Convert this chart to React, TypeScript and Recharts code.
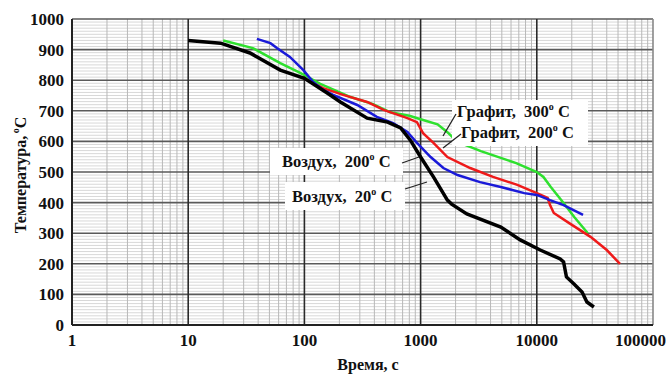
import React from 'react';
import { LineChart, Line, XAxis, YAxis, ReferenceLine } from 'recharts';

// Кривые охлаждения: время, с -> температура, °C
const air20 = [
  { t: 10, T: 930 }, { t: 19, T: 921 }, { t: 34, T: 889 }, { t: 62, T: 833 },
  { t: 100, T: 806 }, { t: 157, T: 758 }, { t: 204, T: 729 }, { t: 347, T: 676 },
  { t: 520, T: 663 }, { t: 673, T: 644 }, { t: 816, T: 604 }, { t: 1000, T: 549 },
  { t: 1290, T: 484 }, { t: 1700, T: 408 }, { t: 1850, T: 395 }, { t: 2500, T: 363 },
  { t: 4900, T: 320 }, { t: 7200, T: 278 }, { t: 10700, T: 245 }, { t: 15900, T: 216 },
  { t: 17000, T: 206 }, { t: 18000, T: 157 }, { t: 20900, T: 134 }, { t: 24500, T: 108 },
  { t: 27000, T: 75 }, { t: 31000, T: 59 },
];

const air200 = [
  { t: 39, T: 935 }, { t: 51, T: 921 }, { t: 58, T: 905 }, { t: 75, T: 876 },
  { t: 98, T: 833 }, { t: 119, T: 794 }, { t: 145, T: 768 }, { t: 177, T: 752 },
  { t: 285, T: 719 }, { t: 420, T: 680 }, { t: 580, T: 660 }, { t: 770, T: 631 },
  { t: 930, T: 595 }, { t: 1220, T: 549 }, { t: 1570, T: 513 }, { t: 2080, T: 490 },
  { t: 3250, T: 467 }, { t: 4900, T: 451 }, { t: 7800, T: 431 }, { t: 10000, T: 425 },
  { t: 13000, T: 408 }, { t: 17000, T: 392 }, { t: 25000, T: 360 },
];

const graphite200 = [
  { t: 95, T: 810 }, { t: 145, T: 774 }, { t: 215, T: 752 }, { t: 347, T: 729 },
  { t: 480, T: 703 }, { t: 770, T: 676 }, { t: 930, T: 663 }, { t: 1050, T: 627 },
  { t: 1290, T: 595 }, { t: 1700, T: 549 }, { t: 2670, T: 513 }, { t: 4200, T: 484 },
  { t: 6800, T: 458 }, { t: 10000, T: 431 }, { t: 12400, T: 415 }, { t: 13000, T: 392 },
  { t: 14000, T: 366 }, { t: 19000, T: 333 }, { t: 29000, T: 288 }, { t: 40000, T: 245 },
  { t: 52000, T: 200 },
];

const graphite300 = [
  { t: 20, T: 930 }, { t: 36, T: 905 }, { t: 62, T: 856 }, { t: 92, T: 824 },
  { t: 137, T: 788 }, { t: 250, T: 745 }, { t: 390, T: 722 }, { t: 550, T: 695 },
  { t: 800, T: 684 }, { t: 1050, T: 670 }, { t: 1400, T: 656 }, { t: 1700, T: 630 },
  { t: 2080, T: 598 }, { t: 3300, T: 568 }, { t: 6650, T: 529 }, { t: 10000, T: 500 },
  { t: 11400, T: 484 }, { t: 13200, T: 451 }, { t: 17000, T: 399 }, { t: 21000, T: 353 },
  { t: 27500, T: 300 },
];

const xTicks = [1, 10, 100, 1000, 10000, 100000];
const yTicks = [0, 100, 200, 300, 400, 500, 600, 700, 800, 900, 1000];

// сетка
const xMinor: number[] = [];
for (const d of [1, 10, 100, 1000, 10000]) for (let k = 2; k <= 9; k++) xMinor.push(d * k);
const yMinor: number[] = [];
for (let v = 10; v < 1000; v += 10) if (v % 100 !== 0) yMinor.push(v);

const font = '"Liberation Serif", "Times New Roman", serif';
const tickStyle = { fontFamily: font, fontWeight: 700, fontSize: 17, fill: '#111' };
const sp = '\u00a0';

function Txt({ x, y, text }: { x: number; y: number; text: string }) {
  return (
    <text x={x} y={y} fontFamily={font} fontWeight={700} fontSize={16.5} fill="#111">
      {text}
      <tspan dy={-7} fontSize={10}>o</tspan>
      <tspan dy={7}>{sp}C</tspan>
    </text>
  );
}

export default function App() {
  return (
    <div style={{ position: 'absolute', left: 0, top: 0, width: 666, height: 374, background: '#fff' }}>
      <LineChart width={666} height={374} margin={{ top: 19, right: 13, left: 0, bottom: 0 }}>
        <XAxis
          dataKey="t"
          type="number"
          scale="log"
          domain={[1, 100000]}
          ticks={xTicks}
          allowDataOverflow
          height={49}
          tickSize={0}
          tickMargin={9}
          tick={tickStyle}
          axisLine={{ stroke: '#222', strokeWidth: 2 }}
        />
        <YAxis
          type="number"
          domain={[0, 1000]}
          ticks={yTicks}
          width={72}
          tickSize={0}
          tickMargin={8}
          tick={tickStyle}
          axisLine={{ stroke: '#222', strokeWidth: 2 }}
        />
        {yMinor.map((v) => (
          <ReferenceLine key={'ym' + v} y={v} stroke="#d8d8d8" strokeWidth={1} />
        ))}
        {xMinor.map((v) => (
          <ReferenceLine key={'xm' + v} x={v} stroke="#b8b8b8" strokeWidth={1} />
        ))}
        {yTicks.slice(1).map((v) => (
          <ReferenceLine key={'yM' + v} y={v} stroke="#5a5a5a" strokeWidth={1.6} />
        ))}
        {xTicks.slice(1).map((v) => (
          <ReferenceLine key={'xM' + v} x={v} stroke={v === 100000 ? '#888' : '#2a2a2a'} strokeWidth={1.6} />
        ))}
        <Line data={graphite300} dataKey="T" stroke="#2ee02e" strokeWidth={2.5} dot={false} isAnimationActive={false} />
        <Line data={graphite200} dataKey="T" stroke="#ee1a1a" strokeWidth={2.5} dot={false} isAnimationActive={false} />
        <Line data={air200} dataKey="T" stroke="#1a1ad8" strokeWidth={2.5} dot={false} isAnimationActive={false} />
        <Line data={air20} dataKey="T" stroke="#000" strokeWidth={3.5} dot={false} isAnimationActive={false} />
      </LineChart>
      <svg width={666} height={374} style={{ position: 'absolute', left: 0, top: 0, pointerEvents: 'none' }}>
        <rect x={452} y={100} width={136} height={46} fill="#fff" />
        <rect x={270} y={148} width={133} height={27} fill="#fff" />
        <rect x={285} y={182} width={120} height={28} fill="#fff" />
        <line x1={456} y1={114} x2={443} y2={136} stroke="#222" strokeWidth={1.3} />
        <line x1={461} y1={134} x2={443} y2={148} stroke="#222" strokeWidth={1.3} />
        <line x1={402} y1={163} x2={419} y2={157} stroke="#222" strokeWidth={1.3} />
        <line x1={405} y1={189} x2={427} y2={182} stroke="#222" strokeWidth={1.3} />
        <Txt x={457} y={117} text={'Графит,' + sp + sp + '300'} />
        <Txt x={461} y={138} text={'Графит,' + sp + sp + '200'} />
        <Txt x={282} y={167} text={'Воздух,' + sp + sp + '200'} />
        <Txt x={292} y={202} text={'Воздух,' + sp + sp + '20'} />
        <text x={368} y={370} textAnchor="middle" fontFamily={font} fontWeight={700} fontSize={16} fill="#111">
          Время, с
        </text>
        <text
          transform="translate(26,175) rotate(-90)"
          textAnchor="middle"
          fontFamily={font}
          fontWeight={700}
          fontSize={16}
          fill="#111"
        >
          Температура,
          <tspan dy={-7} fontSize={10}>{sp}o</tspan>
          <tspan dy={7}>C</tspan>
        </text>
      </svg>
    </div>
  );
}
